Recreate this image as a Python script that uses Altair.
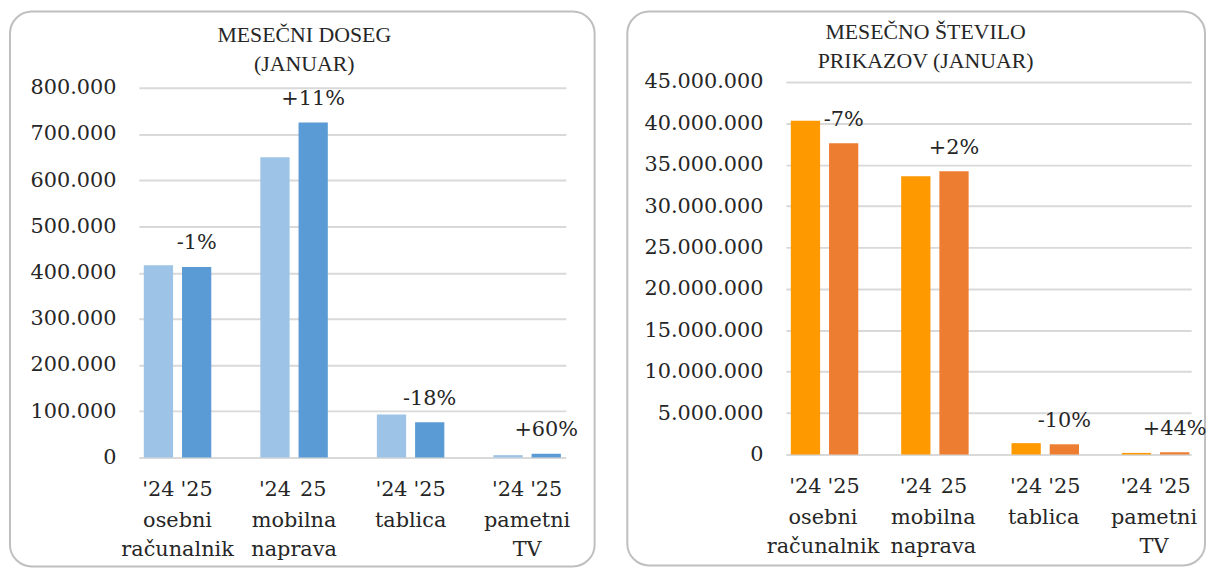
import altair as alt
import pandas as pd

categories = ["osebni\nračunalnik", "mobilna\nnaprava", "tablica", "pametni\nTV"]
years = ["24", "25"]
year_labels = {
    "osebni\nračunalnik": ["'24", "'25"],
    "mobilna\nnaprava": ["'24", "25"],
    "tablica": ["'24", "'25"],
    "pametni\nTV": ["'24", "'25"],
}

reach_title = "MESEČNI DOSEG\n(JANUAR)"
reach_2024 = [416000, 650000, 93000, 5000]
reach_2025 = [412000, 725000, 76000, 8000]
reach_change = ["-1%", "+11%", "-18%", "+60%"]

views_title = "MESEČNO ŠTEVILO\nPRIKAZOV (JANUAR)"
views_2024 = [40300000, 33600000, 1370000, 190000]
views_2025 = [37600000, 34200000, 1230000, 270000]
views_change = ["-7%", "+2%", "-10%", "+44%"]

reach_ticks = [0, 100000, 200000, 300000, 400000, 500000, 600000, 700000, 800000]
views_ticks = [0, 5000000, 10000000, 15000000, 20000000, 25000000, 30000000,
               35000000, 40000000, 45000000]

TEXT = "#262626"
SERIF = "DejaVu Serif"


def make_df(v24, v25, changes):
    rows = []
    for i, c in enumerate(categories):
        rows.append({"category": c, "year": "24", "value": v24[i],
                     "ylab": year_labels[c][0], "pct": ""})
        rows.append({"category": c, "year": "25", "value": v25[i],
                     "ylab": year_labels[c][1], "pct": changes[i]})
    return pd.DataFrame(rows)


def panel(df, title, ymax, ticks, colors, width, height, pinner, pouter,
          offinner, title_xy, rect_box, pct_dy):
    x_enc = alt.X(
        "category:N", sort=categories,
        scale=alt.Scale(paddingInner=pinner, paddingOuter=pouter),
        axis=alt.Axis(title=None, labelExpr="split(datum.label, '\\n')",
                      labelFont=SERIF, labelFontSize=21, labelLineHeight=29,
                      labelPadding=53, ticks=False, tickSize=0, domain=False,
                      labelAngle=0, labelColor=TEXT, labelOverlap=False,
                      labelLimit=300, grid=False),
    )
    xoff = alt.XOffset("year:N", sort=years, scale=alt.Scale(paddingInner=offinner))
    y_enc = alt.Y(
        "value:Q", scale=alt.Scale(domain=[0, ymax], nice=False),
        axis=alt.Axis(title=None, values=ticks, format=",.0f", labelFont=SERIF,
                      labelFontSize=21, labelColor=TEXT, labelPadding=23,
                      ticks=False, tickSize=0, domain=False, gridColor="#D9D9D9",
                      gridWidth=2),
    )
    one = pd.DataFrame({"k": [0]})
    x0, x1, y0, y1 = rect_box
    frame = alt.Chart(one).mark_rect(
        fill="transparent", stroke="#BFBFBF", strokeWidth=2, cornerRadius=22
    ).encode(x=alt.value(x0), x2=alt.value(x1), y=alt.value(y0), y2=alt.value(y1))

    tx, ty = title_xy
    head = alt.Chart(one).mark_text(
        font="Liberation Serif", fontSize=22, color=TEXT, lineHeight=29,
        lineBreak="\n", align="center", baseline="middle"
    ).encode(x=alt.value(tx), y=alt.value(ty), text=alt.value(title))

    bars = alt.Chart(df).mark_bar().encode(
        x=x_enc, xOffset=xoff, y=y_enc,
        color=alt.Color("year:N", scale=alt.Scale(domain=years, range=colors), legend=None),
    )
    ylabels = alt.Chart(df).mark_text(
        font=SERIF, fontSize=21, color=TEXT, baseline="middle"
    ).encode(x=x_enc, xOffset=xoff, y=alt.value(height + 33), text="ylab:N")
    pcts = alt.Chart(df).transform_filter("datum.year == '25'").mark_text(
        font=SERIF, fontSize=21, color=TEXT, baseline="middle", dy=pct_dy
    ).encode(x=x_enc, xOffset=xoff, y=y_enc, text="pct:N")

    return alt.layer(frame, head, bars, ylabels, pcts).properties(
        width=width, height=height)


# left plot top sits 6px lower than the right one: extend its domain a little
left = panel(make_df(reach_2024, reach_2025, reach_change),
             reach_title, 800000 * 379 / 373, reach_ticks,
             ["#9DC3E6", "#5B9BD5"], 431, 379, 0.421, 0.043, 0.234,
             (167, -47), (-130, 460, -71, 489), -24)
right = panel(make_df(views_2024, views_2025, views_change),
              views_title, 45000000, views_ticks,
              ["#FF9900", "#ED7D31"], 409, 376, 0.417, 0.045, 0.267,
              (141, -50), (-160, 423, -71, 488), -23)

chart = alt.hconcat(left, right, spacing=31).resolve_scale(
    color="independent", x="independent", y="independent"
).properties(
    padding={"left": 1, "top": 0, "right": 0, "bottom": 0}
).configure(
    locale={"number": {"decimal": ",", "thousands": ".", "grouping": [3],
                       "currency": ["", " €"]}}
).configure_view(stroke=None)

chart.save("out.html", embed_options={"renderer": "svg", "actions": False})
